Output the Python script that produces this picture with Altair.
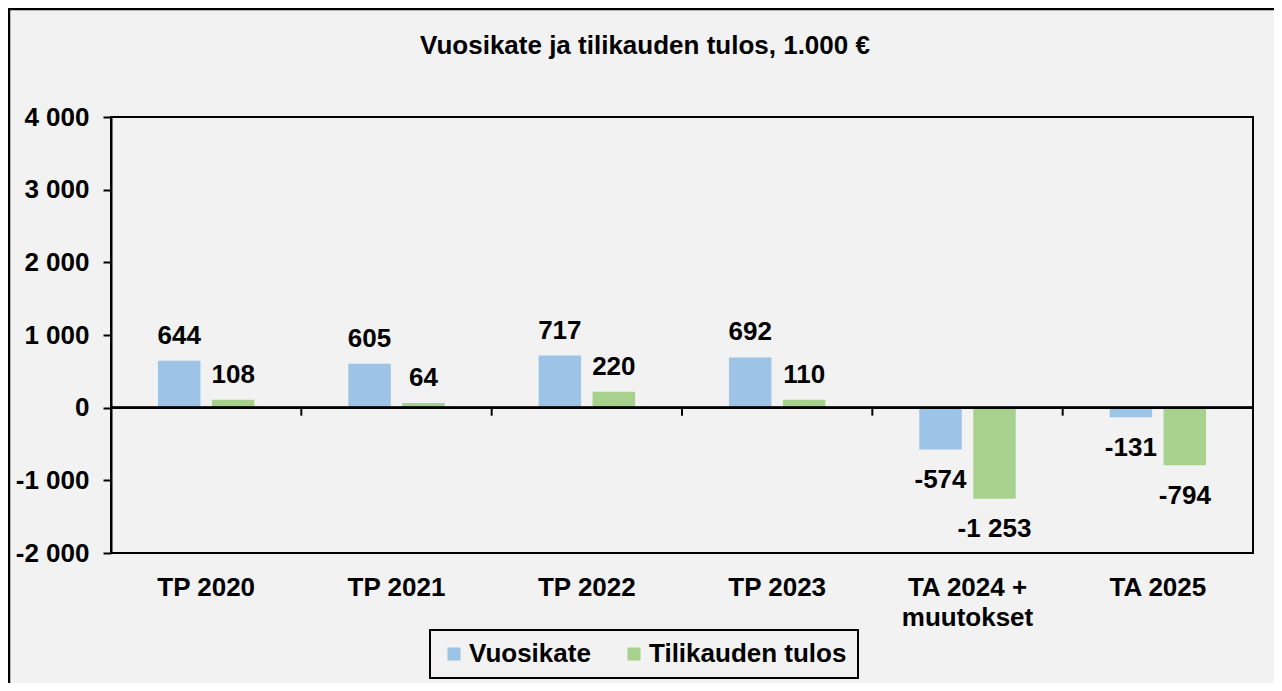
import altair as alt
import pandas as pd

categories = ["TP 2020", "TP 2021", "TP 2022", "TP 2023", "TA 2024 + muutokset", "TA 2025"]
series = ["Vuosikate", "Tilikauden tulos"]
vuosikate = [644, 605, 717, 692, -574, -131]
tilikauden_tulos = [108, 64, 220, 110, -1253, -794]
colors = ["#9DC3E6", "#A9D18E"]
y_ticks = [-2000, -1000, 0, 1000, 2000, 3000, 4000]
title_text = "Vuosikate ja tilikauden tulos, 1.000 €"

rows = []
for c, v, t in zip(categories, vuosikate, tilikauden_tulos):
    rows.append({"cat": c, "series": series[0], "value": v})
    rows.append({"cat": c, "series": series[1], "value": t})
df = pd.DataFrame(rows)
df["label"] = df["value"].map(lambda v: f"{v:,}".replace(",", " "))
cat_df = pd.DataFrame({"cat": categories})

FONT = "Liberation Sans"
W, H = 1142, 436
YMIN, YMAX = -2000, 4000
tick_len_data = 8 * (YMAX - YMIN) / H  # 8 px tick below the zero line

x_scale = alt.Scale(paddingInner=0, paddingOuter=0)
xoff = alt.XOffset("series:N", sort=series,
                   scale=alt.Scale(paddingInner=0.213, paddingOuter=0.87))
y_scale = alt.Scale(domain=[YMIN, YMAX], nice=False, zero=False)
y_enc = alt.Y("value:Q", title=None, scale=y_scale,
              axis=alt.Axis(values=y_ticks, grid=False, domainColor="black",
                            domainWidth=2, tickColor="black", tickWidth=2,
                            tickSize=8, labelPadding=14, labelFont=FONT,
                            labelFontSize=26, labelFontWeight="bold",
                            labelColor="black",
                            labelExpr="datum.value < 0 ? '-' + replace(format(abs(datum.value), ','), ',', ' ') : replace(format(datum.value, ','), ',', ' ')"))

bottom_axis = alt.Axis(title=None, domain=False, ticks=False, labelAngle=0,
                       labelFont=FONT, labelFontSize=26, labelFontWeight="bold",
                       labelColor="black", labelPadding=21, labelLineHeight=30,
                       labelExpr="datum.label == 'TA 2024 + muutokset' ? ['TA 2024 +', 'muutokset'] : datum.label")

border = alt.Chart(pd.DataFrame({"k": [0]})).mark_rect(
    fill="transparent", stroke="black", strokeWidth=2.5
).encode(x=alt.value(-102), x2=alt.value(3000), y=alt.value(-108), y2=alt.value(3000))

bars = alt.Chart(df).mark_bar().encode(
    x=alt.X("cat:N", sort=categories, scale=x_scale, axis=bottom_axis),
    xOffset=xoff,
    y=y_enc,
    color=alt.Color("series:N", sort=series,
                    scale=alt.Scale(domain=series, range=colors),
                    legend=alt.Legend(title=None, orient="none", direction="horizontal",
                                      legendX=319, legendY=513, padding=11,
                                      columnPadding=30, labelOffset=2,
                                      symbolType="square", symbolSize=169,
                                      symbolStrokeWidth=0, labelFont=FONT,
                                      labelFontSize=26, labelFontWeight="bold",
                                      labelColor="black", labelLimit=400,
                                      strokeColor="black")),
)

zero_line = alt.Chart(cat_df).mark_rule(color="black", strokeWidth=2).encode(
    y=alt.datum(0, scale=y_scale)
)

zero_ticks = alt.Chart(cat_df).mark_rule(color="black", strokeWidth=2).encode(
    x=alt.X("cat:N", sort=categories, bandPosition=0),
    y=alt.datum(0),
    y2=alt.datum(-tick_len_data),
)

text_pos = alt.Chart(df).transform_filter("datum.value >= 0").mark_text(
    font=FONT, fontSize=26, fontWeight="bold", color="black",
    baseline="alphabetic", dy=-17
).encode(
    x=alt.X("cat:N", sort=categories),
    xOffset=xoff,
    y=alt.Y("value:Q"),
    text="label:N",
)

text_neg = alt.Chart(df).transform_filter("datum.value < 0").mark_text(
    font=FONT, fontSize=26, fontWeight="bold", color="black",
    baseline="alphabetic", dy=38.5
).encode(
    x=alt.X("cat:N", sort=categories),
    xOffset=xoff,
    y=alt.Y("value:Q"),
    text="label:N",
)

chart = alt.layer(border, bars, zero_ticks, zero_line, text_pos, text_neg).properties(
    width=W, height=H,
    title=alt.Title(title_text, font=FONT, fontSize=26, fontWeight="bold",
                    color="black", anchor="middle", frame="group", dx=-37,
                    offset=-72, baseline="alphabetic"),
    autosize=alt.AutoSizeParams(type="none"),
    padding={"left": 103, "top": 109, "right": 21, "bottom": 130},
).configure(
    background="#F2F2F2",
).configure_view(
    stroke="black", strokeWidth=2,
).configure_legend(
    strokeWidth=2,
)

chart.save("out.html", embed_options={"renderer": "svg", "actions": False})
